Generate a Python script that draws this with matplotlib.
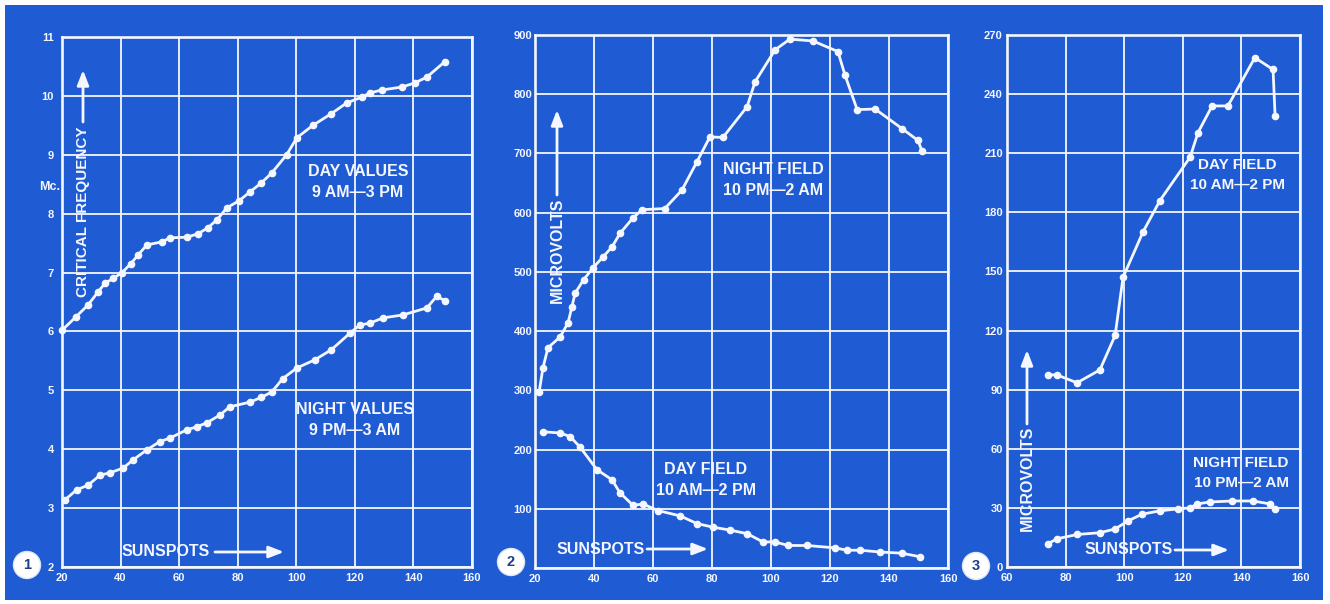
import matplotlib
matplotlib.use("Agg")
import matplotlib.pyplot as plt
from matplotlib.patches import Rectangle, Ellipse, FancyArrowPatch

# ---------------- data ----------------
# Panel 1: critical frequency (Mc.) vs sunspots
p1_day_x = [20, 24.8, 28.9, 32.3, 34.7, 37.5, 40.5, 43.5, 46, 49, 54, 56.9, 62.6, 66.5,
            69.8, 73, 76.3, 80.5, 84.2, 88, 91.6, 96.7, 100.2, 105.7, 112, 117.2,
            122.4, 125.1, 129.2, 136, 140.5, 144.6, 150.7]
p1_day_y = [6.02, 6.25, 6.45, 6.67, 6.82, 6.9, 7.0, 7.15, 7.3, 7.47, 7.52, 7.59, 7.6, 7.66,
            7.76, 7.9, 8.1, 8.22, 8.37, 8.52, 8.69, 9.0, 9.29, 9.5, 9.7, 9.88,
            9.98, 10.05, 10.1, 10.15, 10.22, 10.32, 10.58]
p1_night_x = [21, 25, 28.9, 33, 36.4, 40.9, 44.3, 49, 53.4, 56.9, 62.6, 66, 69.5, 73.9,
              77.3, 84.2, 88, 91.6, 95.4, 100.2, 106.4, 112, 118.3, 121.7, 125.1,
              129.6, 136.4, 144.6, 148, 150.7]
p1_night_y = [3.14, 3.31, 3.39, 3.56, 3.6, 3.68, 3.82, 3.99, 4.13, 4.19, 4.33, 4.38, 4.45, 4.58,
              4.72, 4.8, 4.88, 4.97, 5.2, 5.38, 5.52, 5.69, 5.97, 6.11, 6.14,
              6.23, 6.28, 6.4, 6.6, 6.52]

# Panel 2: microvolts vs sunspots
p2_night_x = [21.4, 22.7, 24.4, 28.5, 31.2, 32.5, 33.6, 36.5, 39.7, 43, 46.1, 48.8, 53.2,
              56.3, 64, 69.8, 74.9, 79.3, 83.7, 91.9, 94.6, 101.4, 106.4, 114.2,
              122.7, 125.1, 129.2, 135.3, 144.4, 149.8, 151.2]
p2_night_y = [297, 338, 372, 390, 414, 441, 464, 487, 507, 525, 542, 565, 591,
              605, 607, 638, 686, 728, 727, 779, 821, 875, 893, 890,
              872, 832, 774, 775, 742, 722, 704]
p2_day_x = [22.7, 28.5, 31.9, 35.3, 41, 46.1, 48.8, 53.2, 56.6, 61.7, 69.2, 74.9, 80.3,
            86.1, 91.9, 97.3, 101.4, 105.8, 112.2, 121.7, 125.8, 130.2, 137, 144.4, 150.5]
p2_day_y = [230, 228, 222, 204, 166, 149, 127, 106, 108, 97, 88, 75, 69,
            64, 58, 44, 44, 38, 38, 34, 30, 30, 27, 25, 19]

# Panel 3: microvolts vs sunspots
p3_day_x = [74, 77, 83.9, 91.7, 96.9, 99.6, 106.4, 112.2, 122.5, 125.2, 130, 135.4,
            144.6, 150.8, 151.5]
p3_day_y = [97.5, 97.5, 93.5, 100, 117.5, 147, 170, 186, 208, 220.5, 234, 234,
            258.5, 252.5, 229]
p3_night_x = [74, 77, 83.9, 91.7, 96.9, 101.3, 106.1, 112.2, 118.4, 122.5, 124.8,
              129.3, 136.8, 144, 149.8, 151.5]
p3_night_y = [11.8, 14.3, 16.5, 17.4, 19.3, 23.4, 26.8, 28.5, 29.5, 30, 32,
              33, 33.5, 33.5, 32, 29.5]

p1_xticks = [20, 40, 60, 80, 100, 120, 140, 160]
p1_yticks = [2, 3, 4, 5, 6, 7, 8, 9, 10, 11]
p2_xticks = [20, 40, 60, 80, 100, 120, 140, 160]
p2_yticks = [0, 100, 200, 300, 400, 500, 600, 700, 800, 900]
p2_ylabels = ["", "100", "200", "300", "400", "500", "600", "700", "800", "900"]
p3_xticks = [60, 80, 100, 120, 140, 160]
p3_yticks = [0, 30, 60, 90, 120, 150, 180, 210, 240, 270]

# ---------------- style ----------------
W, H = 1330, 604
BLUE = "#1f5bd3"
WHITE = "#f4f7ff"
FONT = "Liberation Sans"

fig = plt.figure(figsize=(W / 100, H / 100), dpi=100)
fig.patch.set_facecolor("white")


def fx(x):
    return x / W


def fy(y):
    return 1 - y / H


bg = Rectangle((fx(5), fy(600)), fx(1318), 595 / H, transform=fig.transFigure,
               facecolor=BLUE, edgecolor="none", zorder=-10)
fig.add_artist(bg)


def make_axes(left, top, right, bottom, xt, yt, xlim, ylim, ylabels=None, ypad=5):
    ax = fig.add_axes([fx(left), fy(bottom), fx(right - left), (bottom - top) / H])
    ax.set_facecolor("none")
    ax.set_xlim(*xlim)
    ax.set_ylim(*ylim)
    ax.set_xticks(xt)
    ax.set_yticks(yt)
    ax.set_xticklabels([str(v) for v in xt])
    ax.set_yticklabels(ylabels if ylabels is not None else [str(v) for v in yt])
    ax.grid(True, color=WHITE, linewidth=1.3)
    ax.set_axisbelow(True)
    for s in ax.spines.values():
        s.set_color(WHITE)
        s.set_linewidth(1.9)
    ax.tick_params(length=0, colors=WHITE, labelsize=8)
    ax.tick_params(axis="x", pad=4)
    ax.tick_params(axis="y", pad=ypad)
    for lab in ax.get_xticklabels() + ax.get_yticklabels():
        lab.set_fontfamily(FONT)
        lab.set_fontweight("bold")
    return ax


def curve(ax, x, y):
    ax.plot(x, y, color=WHITE, linewidth=2.0, marker="o", markersize=4.5,
            markerfacecolor=WHITE, markeredgecolor=WHITE, zorder=3, clip_on=False)


def label(x, y, s, size=11, rot=0, ls=1.55):
    fig.text(fx(x), fy(y), s, color=WHITE, fontsize=size, fontweight="bold",
             fontfamily=FONT, ha="center", va="center", rotation=rot,
             linespacing=ls, zorder=5)


def arrow(x0, y0, x1, y1):
    fig.add_artist(FancyArrowPatch(
        (fx(x0), fy(y0)), (fx(x1), fy(y1)), transform=fig.transFigure,
        arrowstyle="-|>,head_length=9,head_width=3.5", color=WHITE,
        linewidth=2.0, mutation_scale=1, shrinkA=0, shrinkB=0, zorder=5))


def circ(x, y, s):
    fig.add_artist(Ellipse((fx(x), fy(y)), 27 / W, 27 / H,
                           transform=fig.transFigure, facecolor="white",
                           edgecolor="#dfe6f5", linewidth=1, zorder=4))
    fig.text(fx(x), fy(y), s, color="#1d3f8a", fontsize=10.5, fontweight="bold",
             fontfamily=FONT, ha="center", va="center", zorder=6)


# Panel 1
ax1 = make_axes(62, 37, 472, 567, p1_xticks, p1_yticks, (20, 160), (2, 11), ypad=6)
curve(ax1, p1_day_x, p1_day_y)
curve(ax1, p1_night_x, p1_night_y)

# Panel 2
ax2 = make_axes(535, 35, 948, 568, p2_xticks, p2_yticks, (20, 160), (0, 900),
                ylabels=p2_ylabels, ypad=2)
curve(ax2, p2_night_x, p2_night_y)
curve(ax2, p2_day_x, p2_day_y)

# Panel 3
ax3 = make_axes(1007, 35, 1300, 567, p3_xticks, p3_yticks, (60, 160), (0, 270), ypad=3)
curve(ax3, p3_day_x, p3_day_y)
curve(ax3, p3_night_x, p3_night_y)

# Annotations panel 1
label(358, 182, "DAY VALUES\n9 AM\u20143 PM", size=11.5)
label(355, 420, "NIGHT VALUES\n9 PM\u20143 AM", size=11.5)
label(83, 212, "CRITICAL FREQUENCY", size=11, rot=90)
arrow(83, 122, 83, 70)
label(50, 187, "Mc.", size=9)
label(166, 552, "SUNSPOTS", size=11.5)
arrow(215, 552, 284, 552)
circ(27, 565, "1")

# Annotations panel 2
label(773, 180, "NIGHT FIELD\n10 PM\u20142 AM", size=11.5)
label(706, 480, "DAY FIELD\n10 AM\u20142 PM", size=11.5)
label(557, 250, "MICROVOLTS", size=11.5, rot=90)
arrow(557, 195, 557, 110)
label(601, 549, "SUNSPOTS", size=11.5)
arrow(647, 549, 708, 549)
circ(511, 562, "2")

# Annotations panel 3
label(1237, 175, "DAY FIELD\n10 AM\u20142 PM", size=11)
label(1241, 473, "NIGHT FIELD\n10 PM\u20142 AM", size=11)
label(1027, 478, "MICROVOLTS", size=11.5, rot=90)
arrow(1027, 424, 1027, 350)
label(1129, 550, "SUNSPOTS", size=11.5)
arrow(1175, 550, 1229, 550)
circ(976, 566, "3")

fig.savefig("out.png", dpi=100, facecolor=fig.get_facecolor())
